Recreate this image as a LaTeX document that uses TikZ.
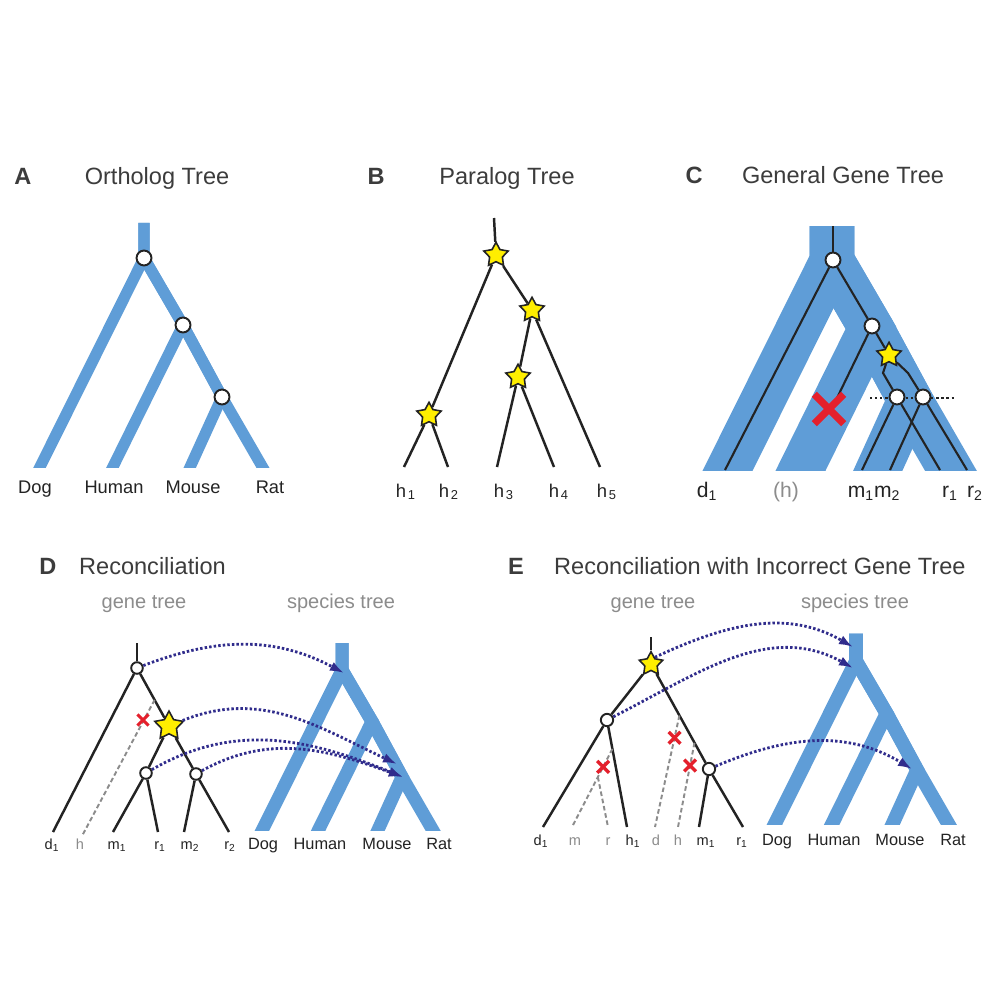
\documentclass[tikz,border=0pt]{standalone}
\usepackage{fontspec}
\setmainfont{Liberation Sans}
\usetikzlibrary{shapes.geometric,shapes.misc,arrows.meta,calc}

\definecolor{band}{RGB}{95,157,215}
\definecolor{arrowblue}{RGB}{48,44,140}
\definecolor{starfill}{RGB}{255,238,0}
\definecolor{losered}{RGB}{228,32,44}
\definecolor{labgray}{RGB}{140,140,140}
\definecolor{ink}{RGB}{35,35,35}
\definecolor{titlegray}{RGB}{60,60,60}

\tikzset{
  gene/.style={draw=ink, line width=1.4pt},
  lost/.style={draw=labgray, line width=1.1pt, dash pattern=on 2.6pt off 1.6pt},
  spec/.style={circle, draw=ink, fill=white, line width=1.1pt, inner sep=0pt, minimum size=#1},
  dup/.style={star, star points=5, star point ratio=1.9, draw=ink, fill=starfill, line width=0.9pt, inner sep=0pt, minimum size=#1},
  loss/.style={cross out, draw=losered, line width=#1, inner sep=0pt},
  mapto/.style={draw=arrowblue, line width=1.6pt, dash pattern=on 1.4pt off 1.2pt, -{Latex[length=8pt,width=5.5pt]}},
  bandline/.style={draw=band, line width=#1, line join=miter},
  paneltag/.style={font=\fontsize{13.4}{16}\selectfont\bfseries, text=titlegray, anchor=base},
  paneltitle/.style={font=\fontsize{13.4}{16}\selectfont, text=titlegray, anchor=base},
  treename/.style={font=\fontsize{11.4}{13}\selectfont, text=labgray, anchor=base},
  leaf/.style={font=\fontsize{#1}{#1}\selectfont, text=ink, anchor=base, inner sep=0pt},
}

% species tree: name, root x, root y, scale, band width
\newcommand\sptree[5]{%
  \begin{scope}[shift={(#2,#3)}, scale=#4]
    \clip (-160,-60) rectangle (180,209);
    \coordinate (#1top) at (0,-35);
    \coordinate (#1root) at (0,0);
    \coordinate (#1n2) at (39,67);
    \coordinate (#1n3) at (78,139);
    \coordinate (#1dog) at (-114,229);
    \coordinate (#1hum) at (-41,229);
    \coordinate (#1mou) at (37,229);
    \coordinate (#1rat) at (130,229);
    \draw[bandline=#5] (#1top) -- (#1root) -- (#1dog);
    \draw[bandline=#5] (#1top) -- (#1root) -- (#1n2) -- (#1n3) -- (#1rat);
    \draw[bandline=#5] (#1root) -- (#1n2) -- (#1hum);
    \draw[bandline=#5] (#1n2) -- (#1n3) -- (#1mou);
  \end{scope}}

\begin{document}
\begin{tikzpicture}[x=0.02cm, y=-0.02cm]
  \fill[white] (0,0) rectangle (1000,1000);
  \useasboundingbox (0,0) rectangle (1000,1000);

  % A
  \node[paneltag] (tagA) at (23,185) {A};
  \node[paneltitle] (titleA) at (157,185) {Ortholog Tree};
  \sptree{A}{144}{258}{1}{6.4pt}
  \node[spec=8.5pt] (Aa) at (Aroot) {};
  \node[spec=8.5pt] (Ab) at (An2) {};
  \node[spec=8.5pt] (Ac) at (An3) {};
  \node[leaf=10.4pt] (Adog) at (35,493) {Dog};
  \node[leaf=10.4pt] (Ahum) at (114,493) {Human};
  \node[leaf=10.4pt] (Amou) at (193,493) {Mouse};
  \node[leaf=10.4pt] (Arat) at (270,493) {Rat};

  % B
  \node[paneltag] (tagB) at (376,185) {B};
  \node[paneltitle] (titleB) at (507,185) {Paralog Tree};
  \coordinate (Btop) at (494,218);
  \node[dup=14.5pt] (Ba) at (496,255) {};
  \node[dup=14.5pt] (Bb) at (532,310) {};
  \node[dup=14.5pt] (Bc) at (518,377) {};
  \node[dup=14.5pt] (Bd) at (429,415) {};
  \coordinate (Bh1) at (404,467);
  \coordinate (Bh2) at (448,467);
  \coordinate (Bh3) at (497,467);
  \coordinate (Bh4) at (554,467);
  \coordinate (Bh5) at (600,467);
  \draw[gene] (Btop) -- (Ba);
  \draw[gene] (Ba) -- (Bd);
  \draw[gene] (Bd) -- (Bh1);
  \draw[gene] (Bd) -- (Bh2);
  \draw[gene] (Ba) -- (Bb);
  \draw[gene] (Bb) -- (Bc);
  \draw[gene] (Bc) -- (Bh3);
  \draw[gene] (Bc) -- (Bh4);
  \draw[gene] (Bb) -- (Bh5);
  \node[leaf=10.5pt] (lBh1) at (406,497) {h\kern1pt\textsubscript{1}};
  \node[leaf=10.5pt] (lBh2) at (449,497) {h\kern1pt\textsubscript{2}};
  \node[leaf=10.5pt] (lBh3) at (504,497) {h\kern1pt\textsubscript{3}};
  \node[leaf=10.5pt] (lBh4) at (559,497) {h\kern1pt\textsubscript{4}};
  \node[leaf=10.5pt] (lBh5) at (607,497) {h\kern1pt\textsubscript{5}};

  % C
  \node[paneltag] (tagC) at (694,184) {C};
  \node[paneltitle] (titleC) at (843,184) {General Gene Tree};
  \sptree{C}{832}{261}{1}{25.5pt}
  \coordinate (Cdl) at (870,398);
  \coordinate (Cdr) at (955,398);
  \draw[ink, line width=1.3pt, dash pattern=on 1.3pt off 1.6pt] (Cdl) -- (Cdr);
  \coordinate (Ctop) at (833,226);
  \node[spec=8.5pt] (Ca) at (833,260) {};
  \node[spec=8.5pt] (Cb) at (872,326) {};
  \node[dup=14.5pt] (Cs) at (889,355) {};
  \node[spec=8.5pt] (Cc) at (897,397) {};
  \node[spec=8.5pt] (Cd) at (923,397) {};
  \coordinate (Cxe) at (837,398);
  \coordinate (Ckl) at (883,373);
  \coordinate (Ckr) at (908,373);
  \coordinate (Cd1) at (725,470);
  \coordinate (Cm1) at (862,470);
  \coordinate (Cm2) at (890,470);
  \coordinate (Cr1) at (940,470);
  \coordinate (Cr2) at (967,470);
  \draw[gene, line width=1.2pt] (Ctop) -- (Ca);
  \draw[gene, line width=1.2pt] (Ca) -- (Cd1);
  \draw[gene, line width=1.2pt] (Ca) -- (Cb);
  \draw[gene, line width=1.2pt] (Cb) -- (Cxe);
  \draw[gene, line width=1.2pt] (Cb) -- (Cs);
  \draw[gene, line width=1.2pt] (Cs) -- (Ckl) -- (Cc);
  \draw[gene, line width=1.2pt] (Cs) -- (Ckr) -- (Cd);
  \draw[gene, line width=1.2pt] (Cc) -- (Cm1);
  \draw[gene, line width=1.2pt] (Cc) -- (Cr1);
  \draw[gene, line width=1.2pt] (Cd) -- (Cm2);
  \draw[gene, line width=1.2pt] (Cd) -- (Cr2);
  \node[loss=4.2pt, minimum size=12.5pt] (Cx) at (829,409) {};
  \node[leaf=12pt] (lCd1) at (707,497) {d\textsubscript{1}};
  \node[leaf=12pt, text=labgray] (lCh) at (786,497) {(h)};
  \node[leaf=12pt] (lCm) at (874,497) {m\textsubscript{1}m\textsubscript{2}};
  \node[leaf=12pt] (lCr1) at (950,497) {r\textsubscript{1}};
  \node[leaf=12pt] (lCr2) at (975,497) {r\textsubscript{2}};

  % D
  \node[paneltag] (tagD) at (48,574) {D};
  \node[paneltitle, anchor=base west] (titleD) at (73,574) {Reconciliation};
  \node[treename] (geneD) at (144,608) {gene tree};
  \node[treename] (specD) at (341,608) {species tree};
  \sptree{D}{342}{670}{0.77}{7.4pt}
  \coordinate (Dtop) at (137,643);
  \node[spec=6.6pt] (Da) at (137,668) {};
  \node[dup=17pt] (Ds) at (169,726) {};
  \node[spec=6.6pt] (Db) at (146,773) {};
  \node[spec=6.6pt] (Dc) at (196,774) {};
  \coordinate (Dd1) at (53,832);
  \coordinate (Dh) at (82,836);
  \coordinate (Dm1) at (113,832);
  \coordinate (Dr1) at (158,832);
  \coordinate (Dm2) at (184,832);
  \coordinate (Dr2) at (229,832);
  \draw[gene] (Dtop) -- (Da);
  \draw[gene] (Da) -- (Dd1);
  \draw[gene] (Da) -- (Ds);
  \draw[gene] (Ds) -- (Dc);
  \draw[gene] (Ds) -- (Db);
  \draw[gene] (Db) -- (Dm1);
  \draw[gene] (Db) -- (Dr1);
  \draw[gene] (Dc) -- (Dm2);
  \draw[gene] (Dc) -- (Dr2);
  \draw[lost] ($(Da)!0.55!(Ds)$) -- (Dh);
  \node[loss=1.8pt, minimum size=4.5pt] (Dx) at (143,720) {};
  \coordinate (Dt1) at (344,673);
  \coordinate (Dt2) at (397,764);
  \coordinate (Dt3) at (403,777);
  \draw[mapto] (Da) to[out=21, in=152] (Dt1);
  \draw[mapto] (Ds) to[out=22, in=155] (Dt2);
  \draw[mapto] (Db) to[out=30, in=158] (Dt3);
  \draw[mapto] (Dc) to[out=29, in=160] (Dt3);
  \node[leaf=8.3pt] (lDd1) at (52,849) {d\textsubscript{1}};
  \node[leaf=8.3pt, text=labgray] (lDh) at (80,849) {h};
  \node[leaf=8.3pt] (lDm1) at (117,849) {m\textsubscript{1}};
  \node[leaf=8.3pt] (lDr1) at (160,849) {r\textsubscript{1}};
  \node[leaf=8.3pt] (lDm2) at (190,849) {m\textsubscript{2}};
  \node[leaf=8.3pt] (lDr2) at (230,849) {r\textsubscript{2}};
  \node[leaf=9.3pt] (lDdog) at (263,849) {Dog};
  \node[leaf=9.3pt] (lDhum) at (320,849) {Human};
  \node[leaf=9.3pt] (lDmou) at (387,849) {Mouse};
  \node[leaf=9.3pt] (lDrat) at (439,849) {Rat};

  % E
  \node[paneltag] (tagE) at (516,574) {E};
  \node[paneltitle, anchor=base west] (titleE) at (548,574) {Reconciliation with Incorrect Gene Tree};
  \node[treename] (geneE) at (653,608) {gene tree};
  \node[treename] (specE) at (855,608) {species tree};
  \sptree{E}{856}{661}{0.784}{7.9pt}
  \coordinate (Etop) at (651,637);
  \node[dup=14pt] (Es) at (651,664) {};
  \node[spec=7pt] (Ea) at (607,720) {};
  \node[spec=7pt] (Eb) at (709,769) {};
  \coordinate (Ed1) at (543,827);
  \coordinate (Eh1) at (627,827);
  \coordinate (Em1) at (699,827);
  \coordinate (Er1) at (743,827);
  \coordinate (Em) at (572,827);
  \coordinate (Er) at (608,827);
  \coordinate (Ed) at (655,827);
  \coordinate (Eh) at (678,827);
  \draw[gene] (Etop) -- (Es);
  \draw[gene] (Es) -- (Ea);
  \draw[gene] (Es) -- (Eb);
  \draw[gene] (Ea) -- (Ed1);
  \draw[gene] (Ea) -- (Eh1);
  \draw[gene] (Eb) -- (Em1);
  \draw[gene] (Eb) -- (Er1);
  \coordinate (Eml) at ($(Ea)!0.27!(Eh1)$);
  \coordinate (Erl) at ($(Eml)!0.36!(Em)$);
  \coordinate (Edl) at ($(Es)!0.49!(Eb)$);
  \coordinate (Ehl) at ($(Es)!0.75!(Eb)$);
  \draw[lost] (Eml) -- (Em);
  \draw[lost] (Erl) -- (Er);
  \draw[lost] (Edl) -- (Ed);
  \draw[lost] (Ehl) -- (Eh);
  \node[loss=1.9pt, minimum size=4.8pt] (Ex1) at ($(Eml)!0.23!(Em)$) {};
  \node[loss=1.9pt, minimum size=4.8pt] (Ex2) at ($(Edl)!0.2!(Ed)$) {};
  \node[loss=1.9pt, minimum size=4.8pt] (Ex3) at ($(Ehl)!0.27!(Eh)$) {};
  \coordinate (Et1) at (853,647);
  \coordinate (Et2) at (853,668);
  \coordinate (Et3) at (912,769);
  \draw[mapto] (Es.60) to[out=25, in=150] (Et1);
  \draw[mapto] (Ea) to[out=27, in=151] (Et2);
  \draw[mapto] (Eb) to[out=23, in=149] (Et3);
  \node[leaf=8.3pt] (lEd1) at (541,845) {d\textsubscript{1}};
  \node[leaf=8.3pt, text=labgray] (lEm) at (575,845) {m};
  \node[leaf=8.3pt, text=labgray] (lEr) at (608,845) {r};
  \node[leaf=8.3pt] (lEh1) at (633,845) {h\textsubscript{1}};
  \node[leaf=8.3pt, text=labgray] (lEd) at (656,845) {d};
  \node[leaf=8.3pt, text=labgray] (lEh) at (678,845) {h};
  \node[leaf=8.3pt] (lEm1) at (706,845) {m\textsubscript{1}};
  \node[leaf=8.3pt] (lEr1) at (742,845) {r\textsubscript{1}};
  \node[leaf=9.3pt] (lEdog) at (777,845) {Dog};
  \node[leaf=9.3pt] (lEhum) at (834,845) {Human};
  \node[leaf=9.3pt] (lEmou) at (900,845) {Mouse};
  \node[leaf=9.3pt] (lErat) at (953,845) {Rat};
\end{tikzpicture}
\end{document}
